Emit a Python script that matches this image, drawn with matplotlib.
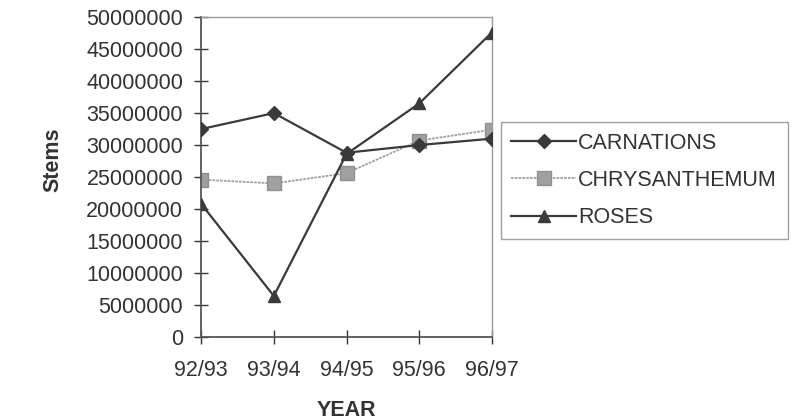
import matplotlib
matplotlib.use("Agg")
import matplotlib.pyplot as plt

years = ["92/93", "93/94", "94/95", "95/96", "96/97"]
carnations = [32500000, 35000000, 28800000, 30000000, 31000000]
chrysanthemum = [24600000, 24000000, 25600000, 30700000, 32400000]
roses = [20800000, 6400000, 28600000, 36500000, 47600000]
yticks = [0, 5000000, 10000000, 15000000, 20000000, 25000000,
          30000000, 35000000, 40000000, 45000000, 50000000]

plt.rcParams['font.family'] = ['Liberation Sans', 'DejaVu Sans']

fig = plt.figure(figsize=(7.92, 4.19), dpi=100)
ax = fig.add_axes([0.254, 0.196, 0.367, 0.763])
x = list(range(len(years)))

ax.plot(x, carnations, color="#3a3a3a", lw=1.6, marker="D", ms=7,
        mfc="#3a3a3a", mec="#3a3a3a", label="CARNATIONS", zorder=3)
ax.plot(x, chrysanthemum, color="#a0a0a0", lw=1.3, ls=(0, (1.5, 0.6)), marker="s", ms=10,
        mfc="#a0a0a0", mec="#909090", label="CHRYSANTHEMUM", zorder=2)
ax.plot(x, roses, color="#3a3a3a", lw=1.6, marker="^", ms=9,
        mfc="#3a3a3a", mec="#3a3a3a", label="ROSES", zorder=4)

ax.set_xlim(0, len(years) - 1)
ax.set_ylim(0, 50000000)
ax.set_xticks(x)
ax.set_xticklabels(years)
ax.set_yticks(yticks)
ax.set_yticklabels([str(v) for v in yticks])
ax.tick_params(axis="both", labelsize=15.5, colors="#333333", direction="inout",
               length=10, width=1.0, pad=8)
ax.tick_params(axis="x", pad=12)

for side in ["left", "bottom"]:
    ax.spines[side].set_color("#555555")
    ax.spines[side].set_linewidth(1.3)
for side in ["top", "right"]:
    ax.spines[side].set_color("#9a9a9a")
    ax.spines[side].set_linewidth(1.0)

ax.set_ylabel("Stems", fontsize=15.5, fontweight="bold", color="#333333")
ax.yaxis.set_label_coords(-0.474, 0.553)
ax.set_xlabel("YEAR", fontsize=15.5, fontweight="bold", color="#333333", labelpad=13)

leg = ax.legend(loc="upper left", bbox_to_anchor=(1.03, 0.672), fontsize=15.5,
                frameon=True, fancybox=False, edgecolor="#888888",
                handlelength=3.0, handletextpad=0.1, borderpad=0.5,
                labelspacing=0.75, borderaxespad=0)
leg.get_frame().set_linewidth(1.0)
for t in leg.get_texts():
    t.set_color("#333333")

fig.savefig("out.png", dpi=100, facecolor="white")
